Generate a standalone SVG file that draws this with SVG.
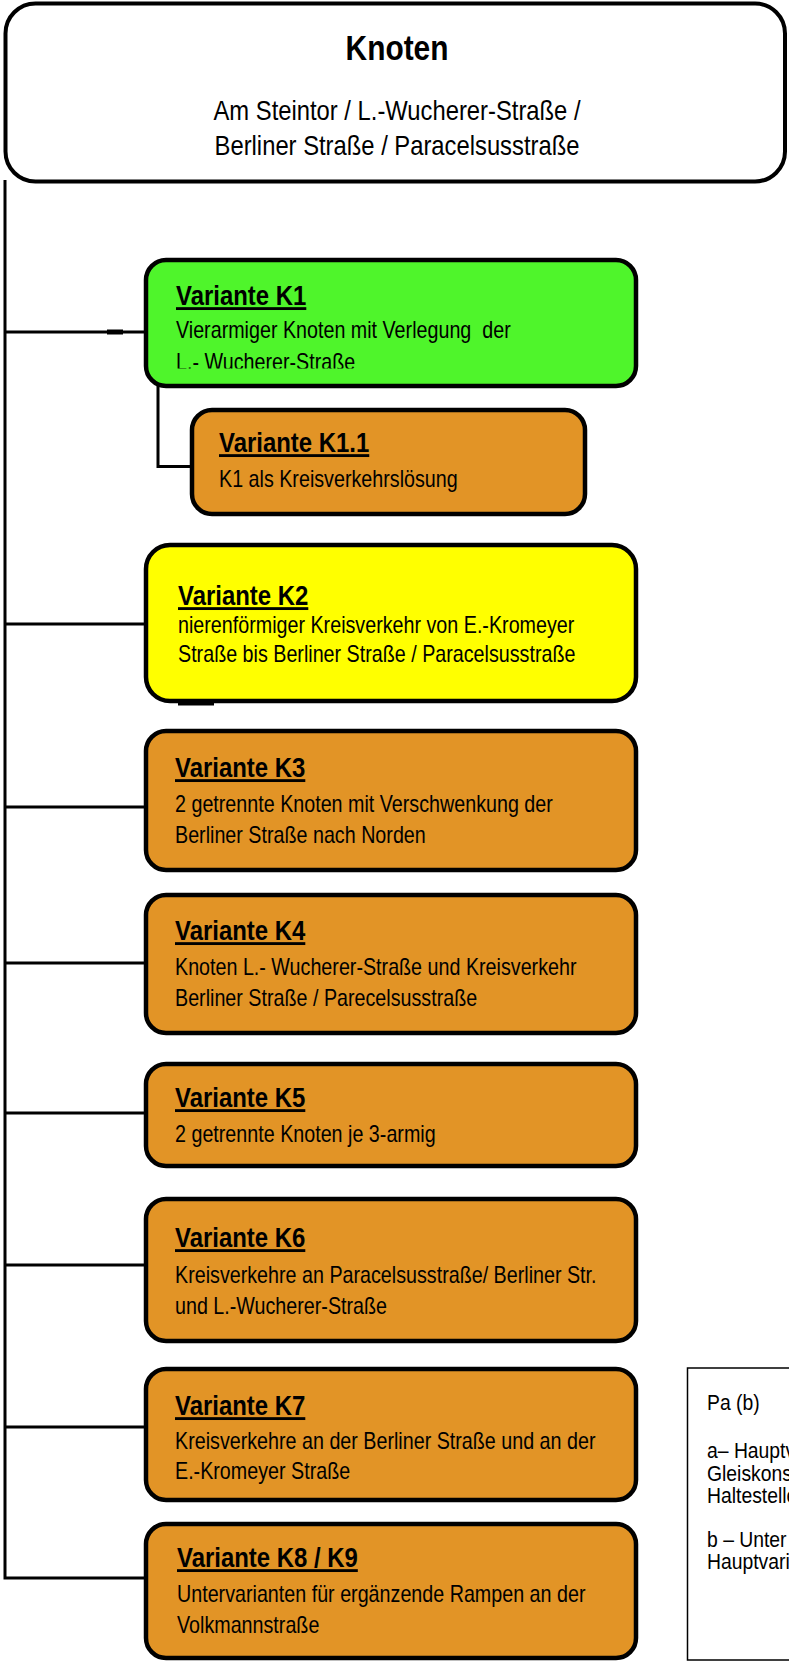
<svg xmlns="http://www.w3.org/2000/svg" width="789" height="1662" viewBox="0 0 789 1662">
<style>
text{font-family:"Liberation Sans",Arial,sans-serif;fill:#000}
.box{stroke:#000;stroke-width:4.5}
.or{fill:#E29426}
.gr{fill:#4FF52B}
.ye{fill:#FFFF00}
.ttl{font-size:28.5px;font-weight:bold;text-decoration:underline}
.bd{font-size:23px}
.hd{font-size:36px;font-weight:bold}
.sub{font-size:28px}
.lg{font-size:21.5px}
.cn{stroke:#000;stroke-width:3;fill:none}
</style>
<defs>
<clipPath id="k1clip"><rect x="150" y="262" width="485" height="106.5"/></clipPath>
</defs>
<rect width="789" height="1662" fill="#fff"/>
<g id="connectors">
<path class="cn" d="M5 180 V1578 H146"/>
<path class="cn" d="M5 332 H146"/>
<path d="M107 332 H123" stroke="#000" stroke-width="5"/>
<path class="cn" d="M158 386 V466.5 H192"/>
<path class="cn" d="M5 624 H146"/>
<path d="M178 704 H214" stroke="#000" stroke-width="3"/>
<path class="cn" d="M5 807 H146"/>
<path class="cn" d="M5 963 H146"/>
<path class="cn" d="M5 1113 H146"/>
<path class="cn" d="M5 1265 H146"/>
<path class="cn" d="M5 1427 H146"/>
</g>
<g id="knoten">
<rect x="5.5" y="3.5" width="779.5" height="178" rx="30" fill="#fff" stroke="#000" stroke-width="4"/>
<text class="hd" text-anchor="middle" transform="translate(397,60) scale(0.83,1)">Knoten</text>
<text class="sub" text-anchor="middle" transform="translate(397,120) scale(0.85,1)">Am Steintor / L.-Wucherer-Straße /</text>
<text class="sub" text-anchor="middle" transform="translate(397,155) scale(0.85,1)">Berliner Straße / Paracelsusstraße</text>
</g>
<g id="k1">
<rect class="box gr" x="146" y="260" width="490" height="126" rx="20"/>
<text class="ttl" transform="translate(176,305) scale(0.84,1)">Variante K1</text>
<text class="bd" xml:space="preserve" transform="translate(176,338) scale(0.857,1)">Vierarmiger Knoten mit Verlegung  der</text>
<g clip-path="url(#k1clip)">
<text class="bd" transform="translate(176,370) scale(0.857,1)">L.- Wucherer-Straße</text>
</g>
</g>
<g id="k1_1">
<rect class="box or" x="192" y="410" width="393" height="104" rx="20"/>
<text class="ttl" transform="translate(219,452) scale(0.84,1)">Variante K1.1</text>
<text class="bd" transform="translate(219,487) scale(0.857,1)">K1 als Kreisverkehrslösung</text>
</g>
<g id="k2">
<rect class="box ye" x="146" y="545" width="490" height="156" rx="24"/>
<text class="ttl" transform="translate(178,605) scale(0.84,1)">Variante K2</text>
<text class="bd" transform="translate(178,633) scale(0.857,1)">nierenförmiger Kreisverkehr von E.-Kromeyer</text>
<text class="bd" transform="translate(178,662) scale(0.857,1)">Straße bis Berliner Straße / Paracelsusstraße</text>
</g>
<g id="k3">
<rect class="box or" x="146" y="731" width="490" height="139" rx="20"/>
<text class="ttl" transform="translate(175,777) scale(0.84,1)">Variante K3</text>
<text class="bd" transform="translate(175,812) scale(0.857,1)">2 getrennte Knoten mit Verschwenkung der</text>
<text class="bd" transform="translate(175,843) scale(0.857,1)">Berliner Straße nach Norden</text>
</g>
<g id="k4">
<rect class="box or" x="146" y="895" width="490" height="138" rx="20"/>
<text class="ttl" transform="translate(175,940) scale(0.84,1)">Variante K4</text>
<text class="bd" transform="translate(175,975) scale(0.857,1)">Knoten L.- Wucherer-Straße und Kreisverkehr</text>
<text class="bd" transform="translate(175,1006) scale(0.857,1)">Berliner Straße / Parecelsusstraße</text>
</g>
<g id="k5">
<rect class="box or" x="146" y="1064" width="490" height="102" rx="20"/>
<text class="ttl" transform="translate(175,1107) scale(0.84,1)">Variante K5</text>
<text class="bd" transform="translate(175,1142) scale(0.857,1)">2 getrennte Knoten je 3-armig</text>
</g>
<g id="k6">
<rect class="box or" x="146" y="1199" width="490" height="142" rx="20"/>
<text class="ttl" transform="translate(175,1247) scale(0.84,1)">Variante K6</text>
<text class="bd" transform="translate(175,1283) scale(0.857,1)">Kreisverkehre an Paracelsusstraße/ Berliner Str.</text>
<text class="bd" transform="translate(175,1314) scale(0.857,1)">und L.-Wucherer-Straße</text>
</g>
<g id="k7">
<rect class="box or" x="146" y="1369" width="490" height="131" rx="20"/>
<text class="ttl" transform="translate(175,1415) scale(0.84,1)">Variante K7</text>
<text class="bd" transform="translate(175,1449) scale(0.857,1)">Kreisverkehre an der Berliner Straße und an der</text>
<text class="bd" transform="translate(175,1479) scale(0.857,1)">E.-Kromeyer Straße</text>
</g>
<g id="k8">
<rect class="box or" x="146" y="1524" width="490" height="134" rx="20"/>
<text class="ttl" transform="translate(177,1567) scale(0.84,1)">Variante K8 / K9</text>
<text class="bd" transform="translate(177,1602) scale(0.857,1)">Untervarianten für ergänzende Rampen an der</text>
<text class="bd" transform="translate(177,1633) scale(0.857,1)">Volkmannstraße</text>
</g>
<g id="legend">
<rect x="687.5" y="1368" width="200" height="292" fill="#fff" stroke="#000" stroke-width="1.5"/>
<text class="lg" transform="translate(707,1410) scale(0.9,1)">Pa (b)</text>
<text class="lg" transform="translate(707,1458) scale(0.9,1)">a– Hauptv</text>
<text class="lg" transform="translate(707,1481) scale(0.9,1)">Gleiskons</text>
<text class="lg" transform="translate(707,1503) scale(0.9,1)">Haltestelle</text>
<text class="lg" transform="translate(707,1547) scale(0.9,1)">b – Unter</text>
<text class="lg" transform="translate(707,1569) scale(0.9,1)">Hauptvari</text>
</g>
</svg>
